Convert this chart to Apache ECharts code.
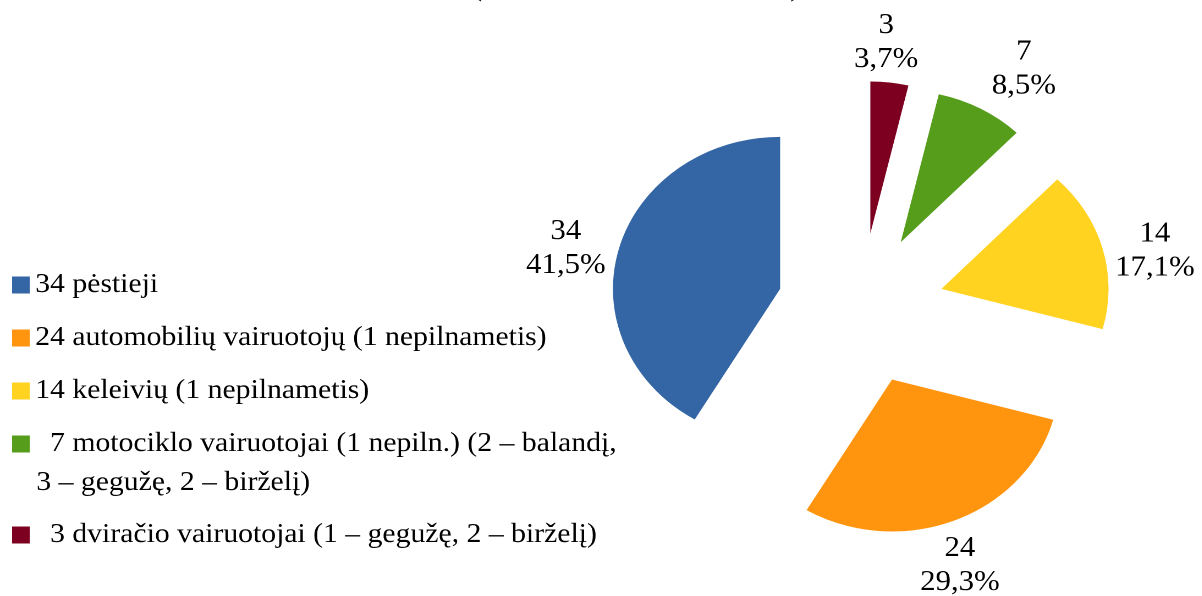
<!DOCTYPE html>
<html>
<head>
<meta charset="utf-8">
<script src="https://cdn.jsdelivr.net/npm/echarts@6/dist/echarts.min.js"></script>
<style>
  html, body { margin: 0; padding: 0; background: #fff; overflow: hidden; }
  /* the original picture is stretched sideways by about 1.1 */
  #main { width: 1093px; height: 596px; transform: scaleX(1.1); transform-origin: 0 0; }
</style>
</head>
<body>
<div id="main"></div>
<script>
// pie order, clockwise from 12 o'clock
var names = [
  "  3 dviračio vairuotojai (1 – gegužę, 2 – birželį)",
  "  7 motociklo vairuotojai (1 nepiln.) (2 – balandį,\n3 – gegužę, 2 – birželį)",
  "14 keleivių (1 nepilnametis)",
  "24 automobilių vairuotojų (1 nepilnametis)",
  "34 pėstieji"
];
var values = [3, 7, 14, 24, 34];
var colors = ["#7E0021", "#579D1C", "#FFD320", "#FF950E", "#3465A4"];
// legend order (top to bottom)
var legendTop = [names[4], names[3], names[2], names[1]];
var legendBottom = [names[0]];

// label distance from the arc and small nudges, per slice
var labelLen = [43, 53, 40, 40, 48];
var labelShift = [[-13, 3], [9, 7], [4, 13], [-15, 8], [3, 13]];

var font = "Liberation Serif";

var myChart = echarts.init(document.getElementById("main"), null, { devicePixelRatio: 2 });

var pieData = values.map(function (v, i) {
  return {
    value: v,
    name: names[i],
    selected: true,
    itemStyle: { color: colors[i] },
    labelLine: { show: false, length: labelLen[i], length2: 0 }
  };
});

var legendText = { fontFamily: font, fontSize: 27, color: "#000", lineHeight: 40 };

myChart.setOption({
  animation: false,
  title: {
    // title is cut off by the top edge of the picture
    text: "(" + new Array(41).join(" ") + ")",
    left: 424,
    top: -31,
    textStyle: { fontFamily: font, fontSize: 28, fontWeight: "normal", color: "#000" }
  },
  legend: [
    {
      orient: "vertical",
      left: 11,
      top: 265,
      padding: 0,
      itemGap: 13,
      itemWidth: 16,
      itemHeight: 17,
      icon: "rect",
      selectedMode: false,
      data: legendTop,
      formatter: function (name) {
        return name.split("\n")[0];
      },
      textStyle: legendText
    },
    {
      orient: "vertical",
      left: 11,
      top: 515,
      padding: 0,
      itemWidth: 16,
      itemHeight: 17,
      icon: "rect",
      selectedMode: false,
      data: legendBottom,
      textStyle: legendText
    }
  ],
  graphic: [
    {
      type: "text",
      left: 33,
      top: 463,
      style: {
        text: names[1].split("\n")[1],
        font: "27px '" + font + "'",
        fill: "#000",
        lineHeight: 40
      }
    }
  ],
  series: [
    {
      type: "pie",
      center: [782.5, 309],
      radius: 152,
      startAngle: 90,
      clockwise: true,
      selectedMode: "multiple",
      selectedOffset: 76,
      avoidLabelOverlap: false,
      emphasis: { disabled: true },
      label: {
        show: true,
        position: "outside",
        fontFamily: font,
        fontSize: 28,
        lineHeight: 34,
        color: "#000",
        formatter: function (p) {
          return p.value + "\n" + p.percent.toFixed(1).replace(".", ",") + "%";
        }
      },
      labelLayout: function (params) {
        var s = labelShift[params.dataIndex];
        return { align: "center", dx: s[0], dy: s[1] };
      },
      data: pieData
    }
  ]
});

window.addEventListener("resize", function () {
  myChart.resize();
});
</script>
</body>
</html>
